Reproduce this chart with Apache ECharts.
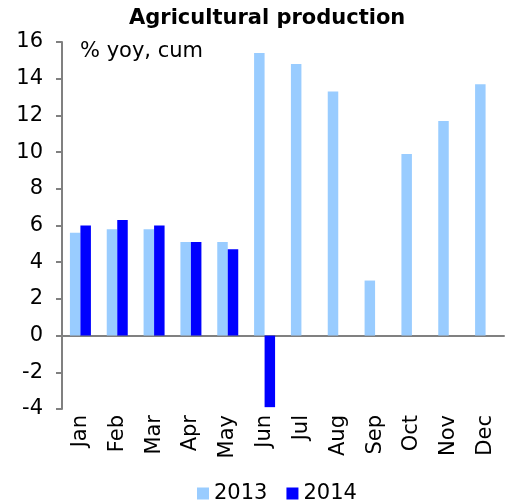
<!DOCTYPE html>
<html>
<head>
<meta charset="utf-8">
<script src="https://cdn.jsdelivr.net/npm/echarts@6/dist/echarts.min.js"></script>
<style>
  html, body { margin: 0; padding: 0; background: #fff; }
  #chart { width: 507px; height: 504px; }
</style>
</head>
<body>
<div id="chart"></div>
<script>
// Agricultural production, % yoy, cumulative
const months = ['Jan', 'Feb', 'Mar', 'Apr', 'May', 'Jun', 'Jul', 'Aug', 'Sep', 'Oct', 'Nov', 'Dec'];
const values2013 = [5.6, 5.8, 5.8, 5.1, 5.1, 15.4, 14.8, 13.3, 3.0, 9.9, 11.7, 13.7];
const values2014 = [6.0, 6.3, 6.0, 5.1, 4.7, -3.9];
const yTicks = { min: -4, max: 16, interval: 2 };

const font = 'Verdana, "DejaVu Sans", sans-serif';
const chart = echarts.init(document.getElementById('chart'));

chart.setOption({
  animation: false,
  backgroundColor: '#ffffff',
  title: {
    text: 'Agricultural production',
    left: 124,
    top: 3,
    textStyle: { fontFamily: font, fontWeight: 'bold', fontSize: 21, color: '#000' }
  },
  graphic: [{
    type: 'text',
    left: 80,
    top: 41,
    style: { text: '% yoy, cum', fontFamily: font, fontSize: 21, fill: '#000' }
  }],
  legend: {
    bottom: -5,
    left: 192,
    itemWidth: 12,
    itemHeight: 12,
    itemGap: 19,
    icon: 'rect',
    textStyle: { fontFamily: font, fontSize: 21, color: '#000' },
    data: ['2013', '2014']
  },
  grid: { left: 62, right: 3, top: 42, bottom: 95 },
  xAxis: {
    type: 'category',
    data: months,
    axisLine: { lineStyle: { color: '#808080', width: 2 } },
    axisTick: { show: false },
    axisLabel: {
      rotate: 90,
      fontFamily: font,
      fontSize: 21,
      color: '#000',
      margin: 6
    }
  },
  yAxis: {
    type: 'value',
    min: yTicks.min,
    max: yTicks.max,
    interval: yTicks.interval,
    splitLine: { show: false },
    axisLine: { show: true, onZero: false, lineStyle: { color: '#808080', width: 2 } },
    axisTick: { show: true, length: 6, lineStyle: { color: '#808080', width: 2 } },
    axisLabel: { fontFamily: font, fontSize: 21, color: '#000', margin: 19 }
  },
  series: [
    {
      name: '2013',
      type: 'bar',
      data: values2013,
      itemStyle: { color: '#99ccff' },
      barGap: '0%',
      barCategoryGap: '43%'
    },
    {
      name: '2014',
      type: 'bar',
      data: values2014,
      itemStyle: { color: '#0000ff' }
    }
  ]
});
</script>
</body>
</html>
